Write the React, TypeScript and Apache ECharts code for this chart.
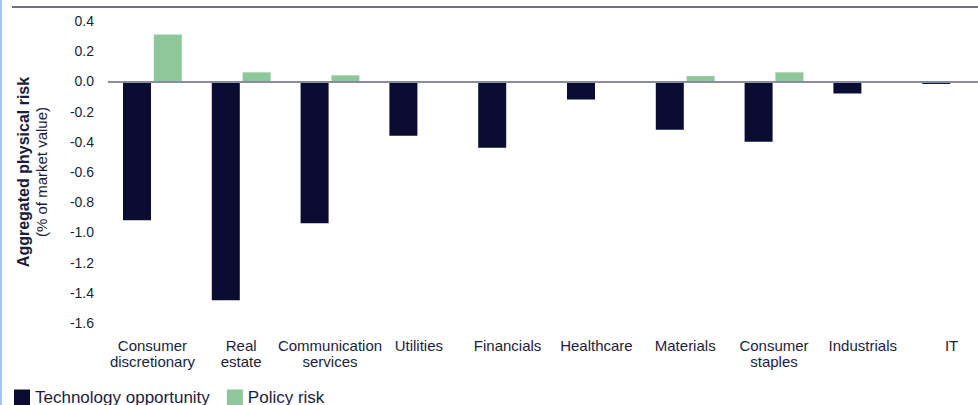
import React, { useEffect, useRef } from "react";
import * as echarts from "echarts";

const categories = [
  "Consumer\ndiscretionary",
  "Real\nestate",
  "Communication\nservices",
  "Utilities",
  "Financials",
  "Healthcare",
  "Materials",
  "Consumer\nstaples",
  "Industrials",
  "IT",
];
const techOpportunity = [-0.92, -1.45, -0.94, -0.36, -0.44, -0.12, -0.32, -0.4, -0.08, -0.017];
const policyRisk = [0.31, 0.06, 0.04, 0, 0, 0, 0.035, 0.06, 0, 0];
const seriesNames = ["Technology opportunity", "Policy risk"];

const TEXT = "#1c1d3d";
const FONT = "Liberation Sans";

export default function App() {
  const ref = useRef<HTMLDivElement>(null);
  useEffect(() => {
    if (!ref.current) return;
    const chart = echarts.init(ref.current, undefined, { renderer: "svg" });
    chart.setOption({
      animation: false,
      textStyle: { fontFamily: FONT, color: TEXT },
      grid: { left: 108, right: 0, top: 21, bottom: 82 },
      legend: {
        left: 14,
        top: 389,
        padding: 0,
        itemWidth: 16,
        itemHeight: 16,
        itemGap: 17,
        icon: "rect",
        data: seriesNames,
        textStyle: { fontFamily: FONT, fontSize: 17, color: TEXT },
      },
      xAxis: {
        type: "category",
        data: categories,
        axisLine: { show: false, onZero: false },
        axisTick: { show: false },
        axisLabel: {
          interval: 0,
          margin: 14,
          fontSize: 15,
          lineHeight: 16,
          color: TEXT,
          fontFamily: FONT,
        },
      },
      yAxis: {
        type: "value",
        min: -1.6,
        max: 0.4,
        interval: 0.2,
        splitLine: { show: false },
        axisLine: { show: false },
        axisTick: { show: false },
        axisLabel: {
          margin: 14,
          fontSize: 14,
          color: TEXT,
          fontFamily: FONT,
          formatter: (v: number) => v.toFixed(1),
        },
        name: "{a|Aggregated physical risk}\n{b|(% of market value)}",
        nameLocation: "middle",
        nameGap: 57,
        nameRotate: 90,
        nameTextStyle: {
          rich: {
            a: { fontSize: 16, fontWeight: "bold", color: TEXT, fontFamily: FONT, lineHeight: 18 },
            b: { fontSize: 15, color: TEXT, fontFamily: FONT, lineHeight: 19 },
          },
        },
      },
      series: [
        {
          name: seriesNames[0],
          type: "bar",
          data: techOpportunity,
          barWidth: 28,
          barGap: "10%",
          itemStyle: { color: "#0a0d31" },
          markLine: {
            silent: true,
            symbol: "none",
            label: { show: false },
            lineStyle: { color: "#8a8ca0", width: 2, type: "solid" },
            data: [{ yAxis: 0 }],
          },
        },
        {
          name: seriesNames[1],
          type: "bar",
          data: policyRisk,
          barWidth: 28,
          itemStyle: { color: "#8ec89a" },
        },
      ],
      graphic: [
        { type: "rect", shape: { x: 0, y: 0, width: 2, height: 405 }, style: { fill: "#a9c6ee" } },
        { type: "rect", shape: { x: 12, y: 6, width: 984, height: 2 }, style: { fill: "#6e7088" } },
      ],
    });
    return () => chart.dispose();
  }, []);
  return (
    <div style={{ position: "absolute", left: 0, top: 0, width: 978, height: 405, overflow: "hidden" }}>
      <div ref={ref} style={{ width: 996, height: 405 }} />
    </div>
  );
}
